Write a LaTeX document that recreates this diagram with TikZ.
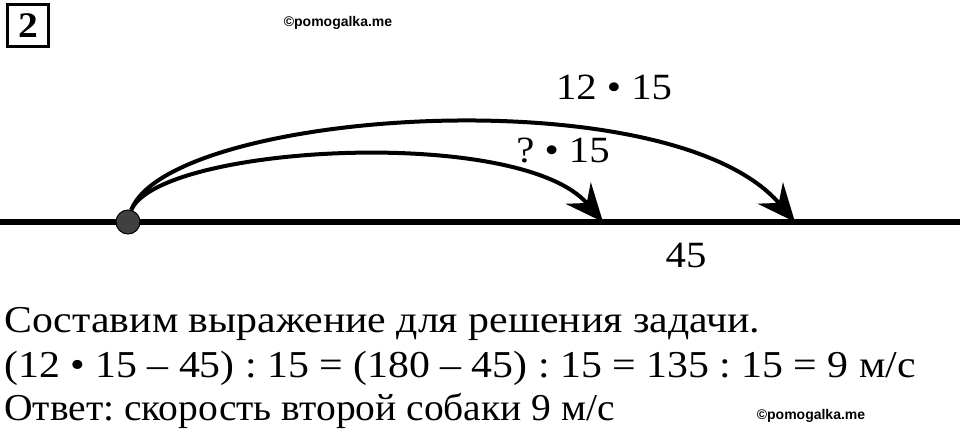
\documentclass[tikz,border=0pt]{standalone}
\usepackage{fontspec}
\setmainfont[FakeStretch=1.1]{Liberation Serif}
\newfontfamily\answerfont[FakeStretch=1.04]{Liberation Serif}
\newfontfamily\wmfont{Liberation Sans}
\usetikzlibrary{arrows.meta}
\frenchspacing

\tikzset{
  numline/.style={line width=6pt},
  jump/.style={line width=4pt, -{Stealth[length=38pt,width=33pt,inset=13pt]}},
  lbl/.style={inner sep=0pt, font=\fontsize{37}{40}\selectfont},
  solution/.style={anchor=base west, inner sep=0pt, font=\fontsize{38}{42}\selectfont},
  wmark/.style={inner sep=0pt, font=\wmfont\bfseries\fontsize{14}{16}\selectfont},
}

\begin{document}
\begin{tikzpicture}[x=1pt, y=-1pt]
    \useasboundingbox (0,0) rectangle (960,444);

    \node (task) at (28,26) [draw, line width=3pt, minimum width=41pt, minimum height=42pt, inner sep=0pt,
      font=\bfseries\fontsize{36}{38}\selectfont]{2};
    \node (wmtop) at (338,23) [wmark]{\textcopyright pomogalka.me};

    % number line
    \coordinate (left) at (0,222);
    \coordinate (right) at (960,222);
    \coordinate (tipA) at (603,222);
    \coordinate (tipB) at (795,222);

    \draw[numline] (left) -- (right);
    \node (start) at (128,222) [circle, draw=black, line width=1pt, fill=black!75, minimum size=24pt, inner sep=0pt]{};

    \draw[jump] (start.75) .. controls (160,145) and (520,125) .. (tipA);
    \draw[jump] (start.75) .. controls (170,110) and (670,75) .. (tipB);

    \node (total) at (614,87) [lbl]{12 • 15};
    \node (part) at (563,151) [lbl]{? • 15};
    \node (diff) at (686,256) [lbl]{45};

    % solution
    \node (line1) at (4,332) [solution]{Составим выражение для решения задачи.};
    \node (line2) at (4,377) [solution]{(12 • 15 – 45) : 15 = (180 – 45) : 15 = 135 : 15 = 9 м/с};
    \node (line3) at (4,420) [solution]{\answerfont Ответ: скорость второй собаки 9 м/с};
    \node (wmbot) at (811,416) [wmark]{\textcopyright pomogalka.me};
\end{tikzpicture}
\end{document}
